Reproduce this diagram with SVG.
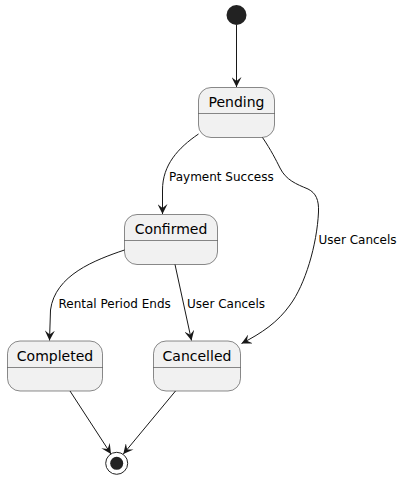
<svg xmlns="http://www.w3.org/2000/svg" width="405" height="479" viewBox="0 0 405 479">
<defs>
<style>
.state rect{fill:#F1F1F1;stroke:#181818;stroke-width:0.5}
.state line{stroke:#181818;stroke-width:0.5}
.state text{font-family:"DejaVu Sans","Liberation Sans",sans-serif;font-size:14px;fill:#000;text-anchor:middle}
.edge{fill:none;stroke:#181818;stroke-width:1;marker-end:url(#arrow)}
.lbl{font-family:"DejaVu Sans","Liberation Sans",sans-serif;font-size:12px;fill:#000}
</style>
<marker id="arrow" viewBox="0 0 10 10" refX="10" refY="5" markerWidth="10" markerHeight="10" markerUnits="userSpaceOnUse" orient="auto">
<path d="M0,0 L10,5 L0,10 L4,5 Z" fill="#181818"/>
</marker>
</defs>
<rect width="405" height="479" fill="#FFFFFF"/>
<g id="start"><circle cx="236.5" cy="15" r="10" fill="#222222"/></g>
<g id="Pending" class="state"><rect x="198.5" y="87.5" width="76" height="50" rx="12.5"/><line x1="198.5" y1="113.5" x2="274.5" y2="113.5"/><text x="236.5" y="107">Pending</text></g>
<g id="Confirmed" class="state"><rect x="124.5" y="214.5" width="93" height="50" rx="12.5"/><line x1="124.5" y1="240.5" x2="217.5" y2="240.5"/><text x="171" y="234">Confirmed</text></g>
<g id="Completed" class="state"><rect x="7.5" y="341" width="95" height="50" rx="12.5"/><line x1="7.5" y1="367.5" x2="102.5" y2="367.5"/><text x="55" y="360.5">Completed</text></g>
<g id="Cancelled" class="state"><rect x="153.5" y="341" width="87" height="50" rx="12.5"/><line x1="153.5" y1="367.5" x2="240.5" y2="367.5"/><text x="197" y="360.5">Cancelled</text></g>
<g id="end"><circle cx="116.7" cy="463.3" r="11" fill="none" stroke="#222222" stroke-width="1"/><circle cx="116.7" cy="463.3" r="6.5" fill="#222222"/></g>
<g id="connectors">
<path class="edge" d="M236.5,25 L236.5,87"/>
<path class="edge" d="M198.5,134 C178,148 162.5,165 162.5,190 L162.5,214"/>
<path class="edge" d="M262.5,137.5 C271,150 276,160 280,168 C286,180 296,184 308,189 C316,193 319,200 318.5,212 C317,245 305,285 290,305 C278,322 262,333 241.5,343.5"/>
<path class="edge" d="M124.5,250 C95,260 55,275 50.5,310 L49.5,340.5"/>
<path class="edge" d="M175,264.5 L191.5,340.5"/>
<path class="edge" d="M70,391 L111,454"/>
<path class="edge" d="M175.5,391 L123.3,454"/>
<text class="lbl" x="169" y="181">Payment Success</text>
<text class="lbl" x="318.5" y="244">User Cancels</text>
<text class="lbl" x="58.5" y="308">Rental Period Ends</text>
<text class="lbl" x="187" y="308">User Cancels</text>
</g>
</svg>
